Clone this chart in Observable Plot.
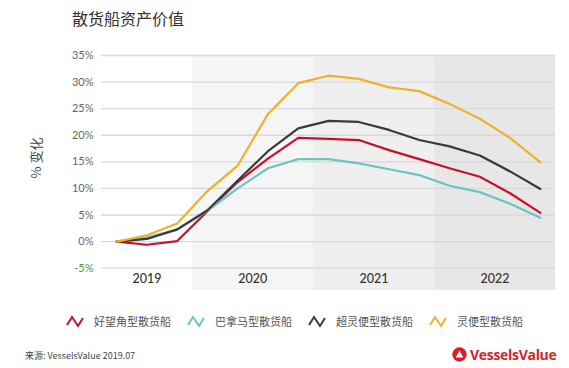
<!DOCTYPE html>
<html><head><meta charset="utf-8">
<script src="https://cdn.jsdelivr.net/npm/d3@7"></script>
<script src="https://cdn.jsdelivr.net/npm/@observablehq/plot@0.6"></script>
<style>
body{margin:0;background:#fff;font-family:Lato,"Noto Sans CJK SC",sans-serif;}
#wrap{position:relative;width:569px;height:368px;overflow:hidden;}
#title{position:absolute;left:72px;top:6px;font-size:16px;color:#333;font-family:"Noto Sans CJK SC",sans-serif;}
#chart{position:absolute;left:0;top:0;}
#ylab{position:absolute;left:35px;top:158px;transform:translate(-50%,-50%) rotate(-90deg);font-size:13px;color:#444;white-space:nowrap;font-family:"Noto Sans CJK SC",sans-serif;}
#legend{position:absolute;left:0;top:311px;width:569px;height:20px;font-size:11px;color:#555;font-family:"Noto Sans CJK SC",sans-serif;}
.item{position:absolute;top:0;display:flex;align-items:center;height:20px;}
.item svg{margin-right:10px;}
#source{position:absolute;left:25px;top:349px;font-size:9px;color:#444;font-family:"Noto Sans CJK SC",sans-serif;}
#logo{position:absolute;left:452px;top:345px;display:flex;align-items:center;color:#d2232a;font-weight:bold;font-size:14px;font-family:"Open Sans",sans-serif;letter-spacing:-0.3px;}
</style></head>
<body><div id="wrap">
<div id="title">散货船资产价值</div>
<div id="chart"></div>
<div id="ylab">% 变化</div>
<div id="legend"></div>
<div id="source">来源: VesselsValue 2019.07</div>
<div id="logo"><svg width="15" height="15" viewBox="0 0 15 15" style="margin-right:3px"><circle cx="7.5" cy="7.5" r="7.2" fill="#d2232a"/><path d="M7.5 3.6 L11.2 10.6 L3.8 10.6 Z" fill="#fff"/></svg>VesselsValue</div>
</div>
<script>
const quarters = ["2019Q2","2019Q3","2019Q4","2020Q1","2020Q2","2020Q3","2020Q4","2021Q1","2021Q2","2021Q3","2021Q4","2022Q1","2022Q2","2022Q3","2022Q4"];
const seriesNames = ["好望角型散货船","巴拿马型散货船","超灵便型散货船","灵便型散货船"];
const seriesColors = ["#c8102e","#6cc4c0","#3a3a3a","#f0b02a"];
const capesize = [0,-0.6,0.1,5.7,11.2,15.6,19.5,19.3,19.1,17.2,15.5,13.8,12.2,9.1,5.4];
const panamax  = [0,0.8,2.2,5.8,10.0,13.8,15.5,15.5,14.7,13.6,12.5,10.5,9.3,7.1,4.5];
const supramax = [0,0.5,2.3,5.9,11.5,17.0,21.3,22.7,22.5,21.0,19.1,17.9,16.2,13.2,9.9];
const handysize= [0,1.2,3.4,9.5,14.3,24.0,29.8,31.2,30.6,29.0,28.3,25.9,23.1,19.5,14.9];
const years = ["2019","2020","2021","2022"];
const yearQuarterCounts = [3,4,4,4];
const bandFills = ["#ffffff","#f5f5f5","#efefef","#e7e7e7"];
const yTicks = [-5,0,5,10,15,20,25,30,35];

const allSeries = [capesize,panamax,supramax,handysize];
const rows = [];
allSeries.forEach((vals,si)=>vals.forEach((v,i)=>rows.push({i, q:quarters[i], v, s:seriesNames[si]})));

const bands = [];
let start = -0.5;
years.forEach((y,k)=>{bands.push({year:y,x1:start,x2:start+yearQuarterCounts[k],fill:bandFills[k]});start+=yearQuarterCounts[k];});

const yMin = -9.2, yMax = 35;
const plot = Plot.plot({
  width:569, height:300,
  marginLeft:101, marginRight:14, marginTop:55, marginBottom:10,
  x:{domain:[-0.5,14.5], axis:null},
  y:{domain:[yMin,yMax], axis:null},
  color:{domain:seriesNames, range:seriesColors},
  style:{fontFamily:"Lato, sans-serif", background:"transparent"},
  marks:[
    Plot.rect(bands,{x1:"x1",x2:"x2",y1:yMin,y2:yMax,fill:"fill"}),
    Plot.ruleY(yTicks,{stroke:"#d9d9d9",strokeWidth:1.3}),
    Plot.text(yTicks,{y:d=>d,frameAnchor:"left",dx:-8,textAnchor:"end",text:d=>d+"%",fill:d=>d<0?"#4a9a3a":"#666",fontSize:11}),
    Plot.text(bands,{x:d=>(d.x1+d.x2)/2,y:-7.1,text:"year",fill:"#333",fontSize:12.5,fontWeight:500}),
    Plot.line(rows,{x:"i",y:"v",z:"s",stroke:"s",strokeWidth:2.2,curve:"linear"})
  ]
});
document.getElementById("chart").appendChild(plot);

const legendX = [66,187,308,429];
const leg = document.getElementById("legend");
seriesNames.forEach((n,k)=>{
  const d = document.createElement("div");
  d.className="item"; d.style.left=legendX[k]+"px";
  d.innerHTML=`<svg width="18" height="14" viewBox="0 0 18 14"><polyline points="1,11 6,3 12,12 17,4" fill="none" stroke="${seriesColors[k]}" stroke-width="2"/></svg><span>${n}</span>`;
  leg.appendChild(d);
});
</script>
</body></html>
